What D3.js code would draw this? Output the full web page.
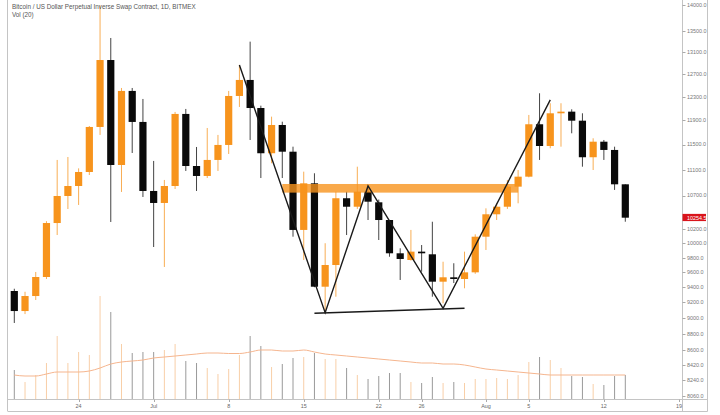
<!DOCTYPE html>
<html><head><meta charset="utf-8">
<script src="https://cdn.jsdelivr.net/npm/d3@7"></script>
<style>body{margin:0;background:#fff}svg{display:block}text{font-family:"Liberation Sans",Arial,sans-serif}</style>
</head><body><svg id="c" width="720" height="415"></svg>
<script>
const dates = ["2019-06-18","2019-06-19","2019-06-20","2019-06-21","2019-06-22","2019-06-23","2019-06-24","2019-06-25","2019-06-26","2019-06-27","2019-06-28","2019-06-29","2019-06-30",
"2019-07-01","2019-07-02","2019-07-03","2019-07-04","2019-07-05","2019-07-06","2019-07-07","2019-07-08","2019-07-09","2019-07-10","2019-07-11","2019-07-12","2019-07-13","2019-07-14","2019-07-15","2019-07-16","2019-07-17","2019-07-18","2019-07-19","2019-07-20","2019-07-21","2019-07-22","2019-07-23","2019-07-24","2019-07-25","2019-07-26","2019-07-27","2019-07-28","2019-07-29","2019-07-30","2019-07-31",
"2019-08-01","2019-08-02","2019-08-03","2019-08-04","2019-08-05","2019-08-06","2019-08-07","2019-08-08","2019-08-09","2019-08-10","2019-08-11","2019-08-12","2019-08-13","2019-08-14"];
const opens  = [9350,9089,9284,9537,10293,10694,10846,11063,11790,12960,11173,12406,11874,10770,10589,10846,12009,11157,11001,11253,11494,12318,12600,12110,11360,11823,11385,10193,10887,9407,9700,10660,10533,10760,10599,10337,9862,9769,9885,9848,9474,9533,9510,9600,10096,10421,10533,10836,10990,11835,11477,12020,12048,11895,11296,11547,11413,10872];
const highs  = [9380,9340,9605,10320,11253,11300,11120,11806,14000,13370,12458,12458,12266,11237,10939,12043,12094,11461,11773,11658,12406,12870,13301,12150,11963,11878,11466,11068,11043,10003,10760,10760,11146,10816,10640,10337,9932,10193,9978,10312,9745,9724,9885,10130,10509,10584,10939,11094,11992,12365,12192,12192,12088,12020,11603,11575,11466,10872];
const lows   = [8937,9050,9232,9510,10120,10499,10559,11016,11658,10308,10755,11364,10679,9950,9673,10800,11079,10770,10969,11079,11348,12128,11575,10969,11200,10969,10096,9769,9400,9060,9275,10120,10500,10337,10049,9814,9497,9760,9609,9275,9189,9456,9386,9580,9908,10337,10500,10584,10980,11253,11440,11466,11685,11146,11094,11253,10786,10312];
const closes = [9089,9284,9537,10293,10694,10846,11063,11790,12960,11173,12406,11874,10770,10589,10846,12009,11157,11001,11253,11494,12318,12600,12110,11360,11823,11385,10193,10887,9407,9700,10660,10533,10760,10608,10337,9862,9783,9885,9862,9474,9533,9510,9600,10096,10421,10533,10836,10990,11835,11477,12020,12048,11895,11296,11547,11413,10872,10371];
const volumes = [29,17,24,36,63,36,47,44,103,87,55,46,47,47,49,55,38,36,31,25,30,44,63,53,32,35,41,42,46,40,40,31,24,20,23,26,26,17,16,22,16,17,16,20,20,21,20,24,37,42,39,31,23,22,15,14,23,24];
const volMA = [24,23,23,25,27,27,27,28,31,35,37,38,39,41,42,43,44,45,46,46,45.5,45.5,47,49,49,48,48,49,47,45,44,43,42,41,40,39,38,37,36,36,35,35,34,32,30,29,28,27,26,25,24,24,24,24,24,24,24,24];
const priceTicks = [14000,13500,13100,12700,12300,11900,11500,11100,10700,10200,10000,9800,9600,9400,9200,9000,8800,8600,8420,8240,8060];
const timeTickDates = ["2019-06-24","2019-07-01","2019-07-08","2019-07-15","2019-07-22","2019-07-26","2019-08-01","2019-08-05","2019-08-12","2019-08-19"];
const timeTickLabels = ["24","Jul","8","15","22","26","Aug","5","12","19"];
const zigzag = [["2019-07-09",12870],["2019-07-17",9068],["2019-07-21",10846],["2019-07-28",9124],["2019-08-07",12250]];
const neckline = [["2019-07-16",9060],["2019-07-30",9124]];
const zoneDates = ["2019-07-13","2019-08-04"];
const zonePrices = [10745,10877];
const lastPriceText = "10254.5";
const titleText = "Bitcoin / US Dollar Perpetual Inverse Swap Contract, 1D, BITMEX";
const volText = "Vol (20)";

const ORANGE = "#f7941d", BLACK = "#0a0a0a";
const svg = d3.select("#c");
const parse = d3.utcParse("%Y-%m-%d");
const D = dates.map(parse);
const x = d3.scaleUtc().domain([parse("2019-06-18"), parse("2019-08-19")]).range([14.3, 678.9]);
const y = d3.scaleLog().domain([9000, 12300]).range([318, 97]);
const yv = d3.scaleLinear().domain([0, 100]).range([399, 299]);
const plotL = 8, plotR = 682.5, plotB = 399.5, axR = 707.5, botB = 411.5;

svg.append("defs").append("clipPath").attr("id","clip").append("rect")
  .attr("x", plotL).attr("y", 0).attr("width", plotR - plotL).attr("height", plotB);
const g = svg.append("g").attr("clip-path","url(#clip)");

const data = D.map((d,i)=>({d, o:opens[i], h:highs[i], l:lows[i], c:closes[i], v:volumes[i], ma:volMA[i], up: closes[i] >= opens[i]}));

// volume bars
g.selectAll(".vol").data(data).enter().append("rect")
  .attr("x", d => x(d.d) - 0.5).attr("width", 1)
  .attr("y", d => yv(d.v)).attr("height", d => yv(0) - yv(d.v))
  .attr("fill", d => d.up ? "#f8cfa8" : "#9a9a9a");

// volume MA
g.append("path").datum(data)
  .attr("d", d3.line().x(d => x(d.d)).y(d => yv(d.ma)).curve(d3.curveMonotoneX))
  .attr("fill","none").attr("stroke","#f5b58e").attr("stroke-width",1);

// candles
const bw = 7.2;
const cg = g.selectAll(".candle").data(data).enter().append("g");
cg.append("line")
  .attr("x1", d => x(d.d)).attr("x2", d => x(d.d))
  .attr("y1", d => y(d.h)).attr("y2", d => y(d.l))
  .attr("stroke", d => d.up ? "#f8ae55" : "#444").attr("stroke-width", 1);
cg.append("rect")
  .attr("x", d => x(d.d) - bw/2).attr("width", bw)
  .attr("y", d => y(Math.max(d.o, d.c)))
  .attr("height", d => Math.max(1, Math.abs(y(d.o) - y(d.c))))
  .attr("fill", d => d.up ? ORANGE : BLACK);

// resistance zone
g.append("rect")
  .attr("x", x(parse(zoneDates[0]))).attr("width", x(parse(zoneDates[1])) - x(parse(zoneDates[0])))
  .attr("y", y(zonePrices[1])).attr("height", y(zonePrices[0]) - y(zonePrices[1]))
  .attr("fill", "#f7941d").attr("opacity", 0.8);

// pattern lines
const pl = d3.line().x(p => x(parse(p[0]))).y(p => y(p[1]));
g.append("path").attr("d", pl(zigzag)).attr("fill","none").attr("stroke","#1a1a1a").attr("stroke-width",1.4);
g.append("path").attr("d", pl(neckline)).attr("fill","none").attr("stroke","#1a1a1a").attr("stroke-width",1.4);

// frame
const fr = svg.append("g").attr("stroke","#c4c4c4").attr("stroke-width",1).attr("fill","none");
fr.append("line").attr("x1",plotL-0.5).attr("x2",plotL-0.5).attr("y1",0).attr("y2",botB);
fr.append("line").attr("x1",plotR).attr("x2",plotR).attr("y1",0).attr("y2",botB);
fr.append("line").attr("x1",axR).attr("x2",axR).attr("y1",0).attr("y2",botB);
fr.append("line").attr("x1",plotL).attr("x2",axR).attr("y1",plotB).attr("y2",plotB);
fr.append("line").attr("x1",plotL).attr("x2",axR).attr("y1",botB).attr("y2",botB);

// price axis
const pa = svg.append("g");
priceTicks.forEach(t => {
  pa.append("line").attr("x1",plotR).attr("x2",plotR+3).attr("y1",Math.round(y(t))+0.5).attr("y2",Math.round(y(t))+0.5).attr("stroke","#aaa");
  pa.append("text").attr("x",plotR+4.5).attr("y",y(t)).attr("dy","0.35em")
    .attr("font-size",5.4).attr("fill","#777").text(d3.format(".1f")(t));
});
const lastY = y(closes[closes.length-1]);
pa.append("rect").attr("x",plotR).attr("y",lastY-3.8).attr("width",axR-plotR-1.5).attr("height",7.2).attr("fill","#d9141b");
pa.append("text").attr("x",plotR+4.5).attr("y",lastY).attr("dy","0.35em").attr("font-size",5.4).attr("fill","#fff").text(lastPriceText);

// time axis
const ta = svg.append("g");
timeTickDates.forEach((t,i) => {
  const xx = x(parse(t));
  ta.append("line").attr("x1",Math.round(xx)+0.5).attr("x2",Math.round(xx)+0.5).attr("y1",plotB).attr("y2",plotB+2.5).attr("stroke","#aaa");
  ta.append("text").attr("x",xx).attr("y",plotB+7).attr("dy","0.35em").attr("text-anchor","middle")
    .attr("font-size",5.4).attr("fill","#666").text(timeTickLabels[i]);
});

// title
svg.append("text").attr("x",12).attr("y",6.5).attr("dy","0.35em").attr("font-size",6.3).attr("fill","#555").text(titleText);
svg.append("text").attr("x",12).attr("y",14.9).attr("dy","0.35em").attr("font-size",6.3).attr("fill","#555").text(volText);
</script></body></html>
